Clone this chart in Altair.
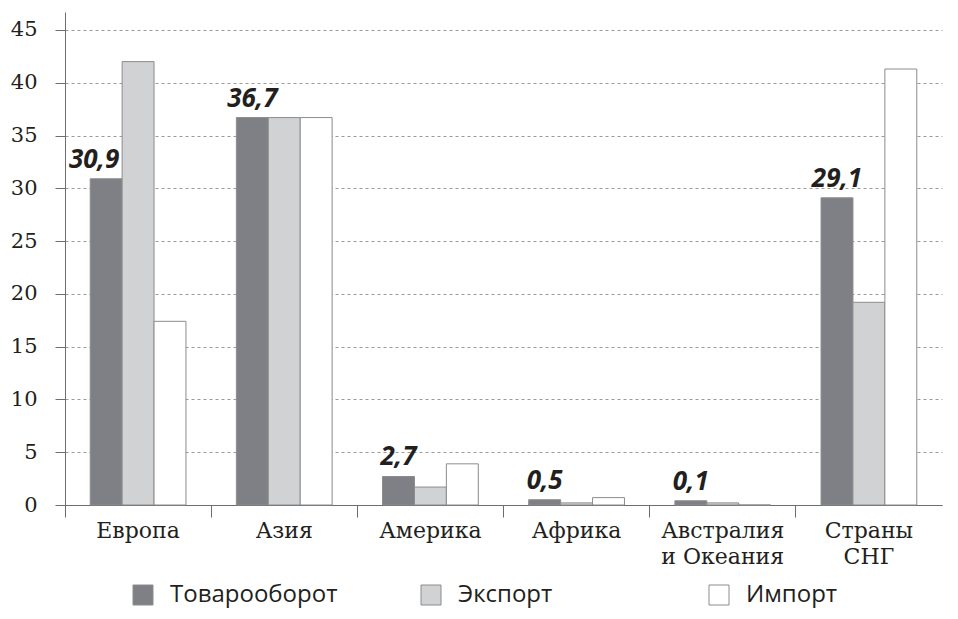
import altair as alt
import pandas as pd

regions = ["Европа", "Азия", "Америка", "Африка", "Австралия\nи Океания", "Страны\nСНГ"]
series = ["Товарооборот", "Экспорт", "Импорт"]
turnover = [30.9, 36.7, 2.7, 0.5, 0.4, 29.1]
export_ = [42.0, 36.7, 1.7, 0.2, 0.2, 19.2]
import_ = [17.4, 36.7, 3.9, 0.7, 0.0, 41.3]
value_labels = ["30,9", "36,7", "2,7", "0,5", "0,1", "29,1"]
y_ticks = [0, 5, 10, 15, 20, 25, 30, 35, 40, 45]
colors = ["#7f8085", "#d1d2d4", "#ffffff"]

rows = []
for i, r in enumerate(regions):
    for s, vals in zip(series, [turnover, export_, import_]):
        rows.append({
            "region": r,
            "series": s,
            "value": vals[i],
            "label": value_labels[i] if s == series[0] else "",
        })
df = pd.DataFrame(rows)

ink = "#231f20"
axis_gray = "#6d6d6d"

x_enc = alt.X(
    "region:N",
    sort=regions,
    scale=alt.Scale(domain=regions, paddingInner=0, paddingOuter=0),
    axis=alt.Axis(
        title=None,
        labelAngle=0,
        bandPosition=0,
        tickSize=12,
        labelPadding=3,
        labelFont="DejaVu Serif",
        labelFontSize=22,
        labelColor=ink,
        labelLineHeight=26,
        labelOverlap=False,
        labelExpr="split(datum.label, '\\n')",
        domainColor=axis_gray,
        tickColor=axis_gray,
        grid=False,
    ),
)
xoff_enc = alt.XOffset(
    "series:N",
    sort=series,
    scale=alt.Scale(domain=series, paddingOuter=0.79, paddingInner=0),
)
y_enc = alt.Y(
    "value:Q",
    scale=alt.Scale(domain=[0, 46.7], nice=False, zero=True),
    axis=alt.Axis(
        title=None,
        values=y_ticks,
        tickSize=10,
        labelPadding=18,
        labelFont="DejaVu Serif",
        labelFontSize=21,
        labelColor=ink,
        domainColor=axis_gray,
        tickColor=axis_gray,
        grid=True,
        gridDash=[3, 3],
        gridColor="#9a9a9a",
        gridWidth=1,
    ),
)

bars = alt.Chart(df).mark_bar(stroke="#8c8c8c", strokeWidth=1).encode(
    x=x_enc,
    xOffset=xoff_enc,
    y=y_enc,
    color=alt.Color(
        "series:N",
        sort=series,
        scale=alt.Scale(domain=series, range=colors),
        legend=alt.Legend(
            title=None,
            orient="none",
            legendX=66,
            legendY=571,
            direction="horizontal",
            symbolType="square",
            symbolSize=400,
            symbolStrokeColor="#8c8c8c",
            symbolStrokeWidth=1,
            symbolOpacity=1,
            labelFont="Open Sans",
            labelFontSize=24,
            labelColor=ink,
            labelOffset=15,
            gridAlign="all",
            columnPadding=81,
            labelLimit=400,
        ),
    ),
)

text_props = dict(
    font="Open Sans",
    fontSize=26,
    fontWeight="bold",
    fontStyle="italic",
    baseline="alphabetic",
    align="center",
    color=ink,
    dy=-11,
)

labels_main = alt.Chart(df).transform_filter(
    (alt.datum.series == series[0]) & (alt.datum.region != regions[0])
).mark_text(**text_props).encode(
    x=alt.X("region:N", sort=regions), xOffset=alt.XOffset("series:N", sort=series),
    y="value:Q", text="label:N",
)
labels_eu = alt.Chart(df).transform_filter(
    (alt.datum.series == series[0]) & (alt.datum.region == regions[0])
).mark_text(dx=-12, **text_props).encode(
    x=alt.X("region:N", sort=regions), xOffset=alt.XOffset("series:N", sort=series),
    y="value:Q", text="label:N",
)

chart = alt.layer(bars, labels_main, labels_eu).properties(
    width=877,
    height=493,
    padding={"left": 57, "top": 4, "right": 8, "bottom": 106},
    autosize=alt.AutoSizeParams(type="none"),
    background="white",
).configure_view(stroke=None)

chart.save("out.html", embed_options={"renderer": "svg", "actions": False})
